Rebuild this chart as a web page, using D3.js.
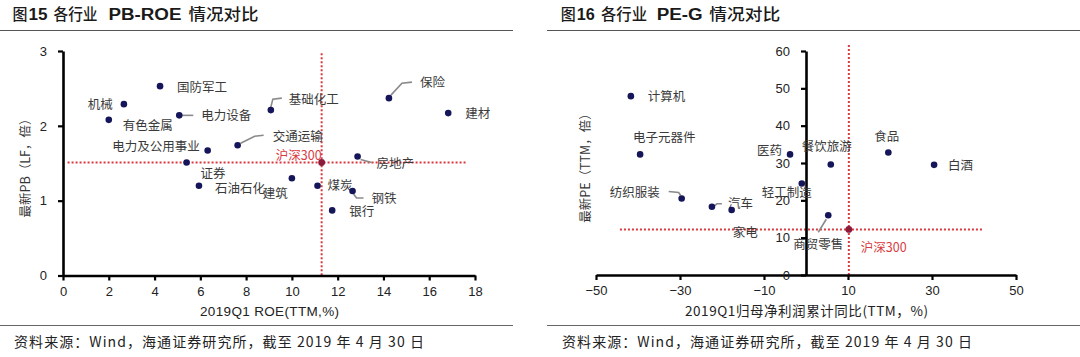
<!DOCTYPE html>
<html><head><meta charset="utf-8">
<script src="https://cdn.jsdelivr.net/npm/d3@7"></script>
<style>
html,body{margin:0;padding:0;background:#fff;}
svg{display:block;}
</style></head>
<body>
<svg id="c" width="1080" height="357"></svg>
<script>
// ---------- DATA ----------
// Chart 15: PB-ROE
const pbIndustries = ["国防军工","机械","有色金属","电力设备","电力及公用事业","交通运输","证券","石油石化","建筑","基础化工","煤炭","钢铁","银行","房地产","保险","建材"];
const roeValues    = [4.24, 2.66, 2.0, 5.08, 6.32, 7.63, 5.4, 5.94, 10.0, 9.08, 11.12, 12.65, 11.76, 12.87, 14.24, 16.83];
const pbValues     = [2.53, 2.29, 2.08, 2.14, 1.67, 1.74, 1.51, 1.20, 1.30, 2.21, 1.20, 1.13, 0.87, 1.59, 2.37, 2.17];
const hs300ROE = 11.3, hs300PB = 1.51;
const roeTicks = [0,2,4,6,8,10,12,14,16,18];
const pbTicks  = [0,1,2,3];

// Chart 16: PE-G
const peIndustries = ["计算机","电子元器件","医药","餐饮旅游","食品","白酒","轻工制造","纺织服装","汽车","家电","商贸零售"];
const growthValues = [-41.7, -39.5, -3.8, 5.9, 19.6, 30.5, -1.0, -29.6, -22.4, -17.7, 5.3];
const peValues     = [47.9, 32.3, 32.3, 29.6, 32.8, 29.5, 24.5, 20.5, 18.3, 17.4, 16.0];
const hs300G = 10.2, hs300PE = 12.2;
const gTicks  = [-50,-30,-10,10,30,50];
const peTicks = [0,10,20,30,40,50,60];

// ---------- LAYOUT (label placement, not data) ----------
// [dx, dy, anchor, leader path points relative to dot]
const pbLabelLayout = {
  "国防军工":[17,1,"start"], "机械":[-11,0,"end"], "有色金属":[14,6,"start"],
  "电力设备":[22,0,"start",[[3,0],[14,0]]],
  "电力及公用事业":[-8,-4,"end"],
  "交通运输":[35,-9,"start",[[3,-2],[17,-9],[26,-10]]],
  "证券":[14,11,"start"], "石油石化":[16,2.5,"start"], "建筑":[-4,15,"end"],
  "基础化工":[18,-11,"start",[[0,-3],[2,-11],[11,-12]]],
  "煤炭":[10,0,"start"],
  "钢铁":[19,8,"start",[[1,3],[4,7],[11,7]]],
  "银行":[17,1,"start"],
  "房地产":[19,7,"start",[[3,3],[14,6]]],
  "保险":[31,-16,"start",[[2,-3],[13,-15],[23,-16]]],
  "建材":[17,0,"start"]
};
const peLabelLayout = {
  "计算机":[17,0,"start"], "电子元器件":[-7,-17,"start"], "医药":[-8,-4,"end"],
  "餐饮旅游":[-29,-18,"start"], "食品":[-14,-16,"start"], "白酒":[14,1,"start"],
  "轻工制造":[-40,9,"start"],
  "纺织服装":[-22,-6,"end",[[-1,-3],[-3,-6],[-13,-7]]],
  "汽车":[16,-3,"start",[[3,-1],[5,-3],[10,-3]]],
  "家电":[1,22,"start"],
  "商贸零售":[-35,29,"start",[[-2,4],[-10,17]]]
};

const svg = d3.select("#c");
const cjk = "'Noto Sans CJK SC','Noto Sans',sans-serif";
const latin = "'Liberation Sans',Arial,sans-serif";
const dotColor = "#15155a";
const refColor = "#d93a3f";
const labelColor = "#3a3a3a";

// title pieces: [text, x, width, isLatinBold]
function header(x0, x1, pieces, textX){
  pieces.forEach(p=>{
    svg.append("text").attr("x", p[1]).attr("y", 20)
      .attr("font-size", p[3] ? 16 : 15.5)
      .attr("font-weight", p[3] ? "bold" : 500)
      .attr("font-family", p[3] ? latin : cjk)
      .attr("fill", "#1a1a1a")
      .attr("textLength", p[2]).attr("lengthAdjust","spacingAndGlyphs")
      .text(p[0]);
  });
  svg.append("line").attr("x1",x0).attr("x2",x1).attr("y1",30.5).attr("y2",30.5)
    .attr("stroke","#555").attr("stroke-width",1.2);
  svg.append("line").attr("x1",x0).attr("x2",x1).attr("y1",325.5).attr("y2",325.5)
    .attr("stroke","#666").attr("stroke-width",1.2);
  svg.append("text").attr("x", textX).attr("y", 347).attr("font-size", 14)
    .attr("fill","#222").attr("font-family", cjk)
    .attr("textLength", 410).attr("lengthAdjust","spacing")
    .text("资料来源：Wind，海通证券研究所，截至 2019 年 4 月 30 日");
}

function styleAxis(g){
  g.select(".domain").attr("stroke","#000").attr("stroke-width",2.6);
  g.selectAll(".tick line").attr("stroke","#000").attr("stroke-width",2.2);
  g.selectAll(".tick text").attr("font-family", latin).attr("font-size", 13).attr("fill","#222");
}

function drawLabels(g, names, xs, ys, x, y, layout){
  names.forEach((n,i)=>{
    const px = x(xs[i]), py = y(ys[i]);
    const L = layout[n];
    if (L[3]) {
      const pts = L[3].map(p=>[px+p[0], py+p[1]]);
      g.append("path").attr("d", d3.line()(pts)).attr("fill","none")
        .attr("stroke","#8a8a8a").attr("stroke-width",1.6);
    }
    g.append("text").attr("x", px+L[0]).attr("y", py+L[1]).attr("dy","0.36em")
      .attr("text-anchor", L[2]).attr("font-size", 12.5).attr("fill", labelColor)
      .attr("font-family", cjk).text(n);
  });
}

// ---------- Chart 15 ----------
header(0, 513, [["图",12.5,15,false],["15",28.5,19,true],["各行业",53.5,44,false],["PB-ROE",108.5,73,true],["情况对比",188.5,70,false]], 14);
{
  const x = d3.scaleLinear().domain([0,18]).range([63,475]);
  const y = d3.scaleLinear().domain([0,3]).range([275.5,51]);
  const g = svg.append("g");
  g.append("line").attr("x1",x(0.2)).attr("x2",x(17.6)).attr("y1",y(hs300PB)).attr("y2",y(hs300PB))
    .attr("stroke",refColor).attr("stroke-width",2).attr("stroke-dasharray","2,2");
  g.append("line").attr("x1",x(hs300ROE)).attr("x2",x(hs300ROE)).attr("y1",y(2.97)).attr("y2",y(0))
    .attr("stroke",refColor).attr("stroke-width",2).attr("stroke-dasharray","2,2");
  const ax = g.append("g").attr("transform",`translate(0,${y(0)})`)
    .call(d3.axisBottom(x).tickValues(roeTicks).tickFormat(d3.format("d")).tickSize(5).tickSizeOuter(0).tickPadding(6));
  styleAxis(ax);
  const ay = g.append("g").attr("transform",`translate(${x(0)},0)`)
    .call(d3.axisLeft(y).tickValues(pbTicks).tickFormat(d3.format("d")).tickSize(5).tickSizeOuter(0).tickPadding(11));
  styleAxis(ay);
  g.append("text").attr("x", 269.5).attr("y", 311).attr("dy","0.36em").attr("text-anchor","middle")
    .attr("font-family", latin).attr("font-size", 13.5).attr("fill","#222")
    .attr("textLength",139).attr("lengthAdjust","spacing").text("2019Q1 ROE(TTM,%)");
  g.append("text").attr("transform","translate(25,165) rotate(-90)").attr("dy","0.36em")
    .attr("text-anchor","middle").attr("font-family", cjk).attr("font-size", 12.5).attr("fill","#333")
    .text("最新PB（LF，倍）");
  drawLabels(g, pbIndustries, roeValues, pbValues, x, y, pbLabelLayout);
  g.selectAll("circle.d").data(pbIndustries).join("circle").attr("class","d")
    .attr("cx",(d,i)=>x(roeValues[i])).attr("cy",(d,i)=>y(pbValues[i])).attr("r",3.3).attr("fill",dotColor);
  g.append("circle").attr("cx",x(hs300ROE)).attr("cy",y(hs300PB)).attr("r",3.4).attr("fill","#8c1c3c");
  g.append("text").attr("x", x(hs300ROE)).attr("y", y(hs300PB)-7).attr("dy","0.36em")
    .attr("text-anchor","end").attr("font-family", cjk).attr("font-size", 12.5).attr("fill", refColor)
    .text("沪深300");
}

// ---------- Chart 16 ----------
header(547, 1080, [["图",560.7,15,false],["16",576.7,18,true],["各行业",601,46,false],["PE-G",656.7,46,true],["情况对比",709.3,71,false]], 562);
{
  const x = d3.scaleLinear().domain([-50,50]).range([596,1016]);
  const y = d3.scaleLinear().domain([0,60]).range([275,51]);
  const g = svg.append("g");
  g.append("line").attr("x1",x(-44.3)).attr("x2",x(42.1)).attr("y1",y(hs300PE)).attr("y2",y(hs300PE))
    .attr("stroke",refColor).attr("stroke-width",2).attr("stroke-dasharray","2,2");
  g.append("line").attr("x1",x(hs300G)).attr("x2",x(hs300G)).attr("y1",y(61.6)).attr("y2",y(0))
    .attr("stroke",refColor).attr("stroke-width",2).attr("stroke-dasharray","2,2");
  const ax = g.append("g").attr("transform",`translate(0,${y(0)})`)
    .call(d3.axisBottom(x).tickValues(gTicks).tickSize(5).tickSizeOuter(0).tickPadding(6));
  styleAxis(ax);
  const ay = g.append("g").attr("transform",`translate(${x(0)},0)`)
    .call(d3.axisLeft(y).tickValues(peTicks).tickSize(5).tickSizeOuter(0).tickPadding(11));
  styleAxis(ay);
  g.append("text").attr("x", 806.5).attr("y", 311).attr("dy","0.36em").attr("text-anchor","middle")
    .attr("font-family", cjk).attr("font-size", 13.5).attr("fill","#222")
    .attr("textLength",243).attr("lengthAdjust","spacing").text("2019Q1归母净利润累计同比(TTM，%)");
  g.append("text").attr("transform","translate(585,165) rotate(-90)").attr("dy","0.36em")
    .attr("text-anchor","middle").attr("font-family", cjk).attr("font-size", 12.5).attr("fill","#333")
    .text("最新PE（TTM，倍）");
  drawLabels(g, peIndustries, growthValues, peValues, x, y, peLabelLayout);
  g.selectAll("circle.d").data(peIndustries).join("circle").attr("class","d")
    .attr("cx",(d,i)=>x(growthValues[i])).attr("cy",(d,i)=>y(peValues[i])).attr("r",3.3).attr("fill",dotColor);
  g.append("circle").attr("cx",x(hs300G)).attr("cy",y(hs300PE)).attr("r",3.4).attr("fill","#8c1c3c");
  g.append("text").attr("x", x(hs300G)+12).attr("y", y(hs300PE)+18).attr("dy","0.36em")
    .attr("text-anchor","start").attr("font-family", cjk).attr("font-size", 12.5).attr("fill", refColor)
    .text("沪深300");
}
</script>
</body></html>
